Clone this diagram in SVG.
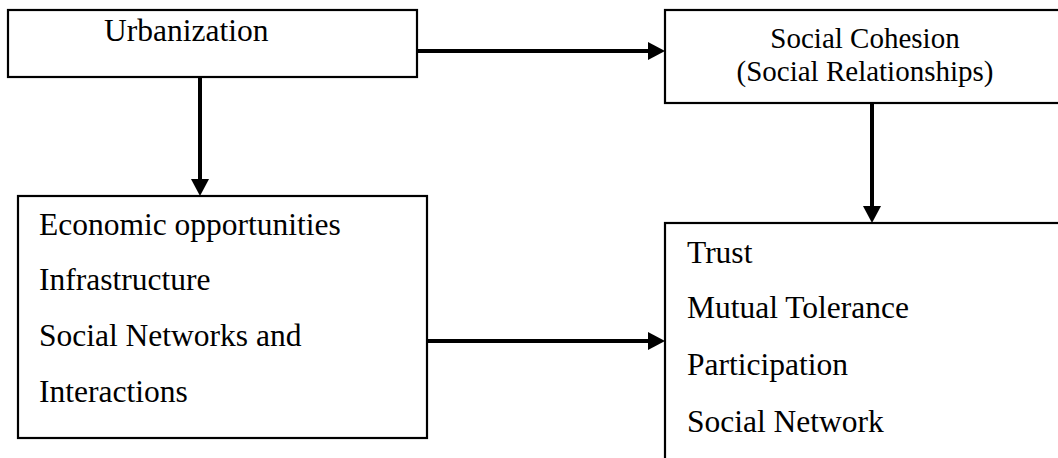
<svg xmlns="http://www.w3.org/2000/svg" width="1058" height="458" viewBox="0 0 1058 458">
<defs>
<style>
.box{fill:#fff;stroke:#000;stroke-width:2.2}
.t{font-family:"Liberation Serif","Times New Roman",serif;font-size:31.5px;fill:#000}
.tc{font-family:"Liberation Serif","Times New Roman",serif;font-size:29px;fill:#000;text-anchor:middle}
.c{stroke:#000;stroke-width:4;fill:none;marker-end:url(#ah)}
</style>
<marker id="ah" markerUnits="userSpaceOnUse" viewBox="0 0 17 18" refX="0" refY="9" markerWidth="17" markerHeight="18" orient="auto">
<path d="M0,0 L17,9 L0,18 z" fill="#000"/>
</marker>
</defs>
<rect width="1058" height="458" fill="#fff"/>
<g id="connectors">
<line class="c" x1="417" y1="51" x2="648" y2="51"/>
<line class="c" x1="200" y1="77" x2="200" y2="179"/>
<line class="c" x1="872" y1="103" x2="872" y2="206"/>
<line class="c" x1="427" y1="341" x2="648" y2="341"/>
</g>
<g id="urbanization">
<rect class="box" x="8" y="10" width="409" height="67"/>
<text class="t" x="104" y="41">Urbanization</text>
</g>
<g id="social-cohesion">
<rect class="box" x="665" y="10" width="420" height="93"/>
<text class="tc" x="865" y="48">Social Cohesion</text>
<text class="tc" x="865" y="81">(Social Relationships)</text>
</g>
<g id="factors">
<rect class="box" x="18" y="196" width="409" height="242"/>
<text class="t" x="39" y="235">Economic opportunities</text>
<text class="t" x="39" y="290">Infrastructure</text>
<text class="t" x="39" y="346">Social Networks and</text>
<text class="t" x="39" y="402">Interactions</text>
</g>
<g id="outcomes">
<rect class="box" x="665" y="223" width="420" height="260"/>
<text class="t" x="687" y="263">Trust</text>
<text class="t" x="687" y="318">Mutual Tolerance</text>
<text class="t" x="687" y="375">Participation</text>
<text class="t" x="687" y="432">Social Network</text>
</g>
</svg>
